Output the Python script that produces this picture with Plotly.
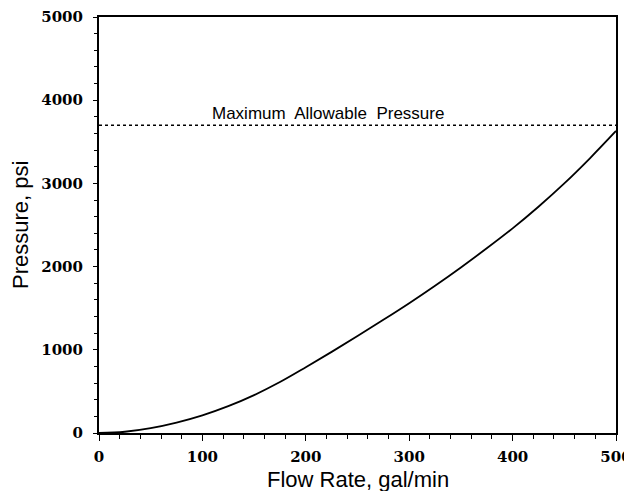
import plotly.graph_objects as go

# Flow rate (gal/min) and pressure (psi)
flow_rate = [0, 25, 50, 75, 100, 125, 150, 175, 200, 225, 250,
             275, 300, 325, 350, 375, 400, 425, 450, 475, 500]
pressure = [0, 15, 58, 125, 212, 322, 455, 612, 790, 975, 1165,
            1360, 1560, 1770, 1990, 2220, 2460, 2720, 3000, 3305, 3630]

max_flow = [0, 500]
max_pressure = [3700, 3700]

fig = go.Figure()

# Pump pressure curve
fig.add_trace(go.Scatter(
    x=flow_rate, y=pressure, mode='lines',
    line=dict(color='black', width=1.8, shape='spline', smoothing=1),
    showlegend=False
))

# Maximum allowable pressure line
fig.add_trace(go.Scatter(
    x=max_flow, y=max_pressure, mode='lines',
    line=dict(color='black', width=1.5, dash='3px,3px'),
    showlegend=False
))

fig.add_annotation(
    x=221, y=3700, text='Maximum  Allowable  Pressure', showarrow=False,
    yshift=12, font=dict(family='Liberation Sans, Arial', size=17, color='black')
)

# axis titles as paper annotations so they sit where the reference has them
fig.add_annotation(
    x=0.5, y=0, xref='paper', yref='paper', yanchor='top', yshift=-32,
    text='Flow Rate, gal/min', showarrow=False,
    font=dict(family='Liberation Sans, Arial', size=22, color='black')
)
fig.add_annotation(
    x=0, y=0.5, xref='paper', yref='paper', xanchor='center', xshift=-79,
    text='Pressure, psi', textangle=-90, showarrow=False,
    font=dict(family='Liberation Sans, Arial', size=22, color='black')
)

tick_font = dict(family='DejaVu Serif', size=15, color='black')

# the page body adds an 8px offset, so the figure is 8px smaller than the window
fig.update_layout(
    width=624, height=483,
    margin=dict(l=91, r=16, t=9, b=58),
    plot_bgcolor='white', paper_bgcolor='white',
    xaxis=dict(
        range=[0, 500], tickvals=[0, 100, 200, 300, 400, 500],
        ticktext=['<b>0</b>', '<b>100</b>', '<b>200</b>', '<b>300</b>', '<b>400</b>', '<b>500</b>'],
        ticks='outside', ticklen=6, tickwidth=1, tickcolor='black',
        minor=dict(dtick=20, ticks='outside', ticklen=4, tickcolor='black'),
        showgrid=False, zeroline=False, automargin=False,
        showline=True, linecolor='black', linewidth=2, mirror=True,
        tickfont=tick_font, ticklabelstandoff=3,
    ),
    yaxis=dict(
        range=[0, 5000], tickvals=[0, 1000, 2000, 3000, 4000, 5000],
        ticktext=['<b>0</b>', '<b>1000</b>', '<b>2000</b>', '<b>3000</b>', '<b>4000</b>', '<b>5000</b>'],
        ticks='outside', ticklen=4, tickwidth=1, tickcolor='black',
        minor=dict(dtick=200, ticks='outside', ticklen=3, tickcolor='black'),
        showgrid=False, zeroline=False, automargin=False,
        showline=True, linecolor='black', linewidth=2, mirror=True,
        tickfont=tick_font, ticklabelstandoff=7,
    ),
)

fig.write_html('out.html')
